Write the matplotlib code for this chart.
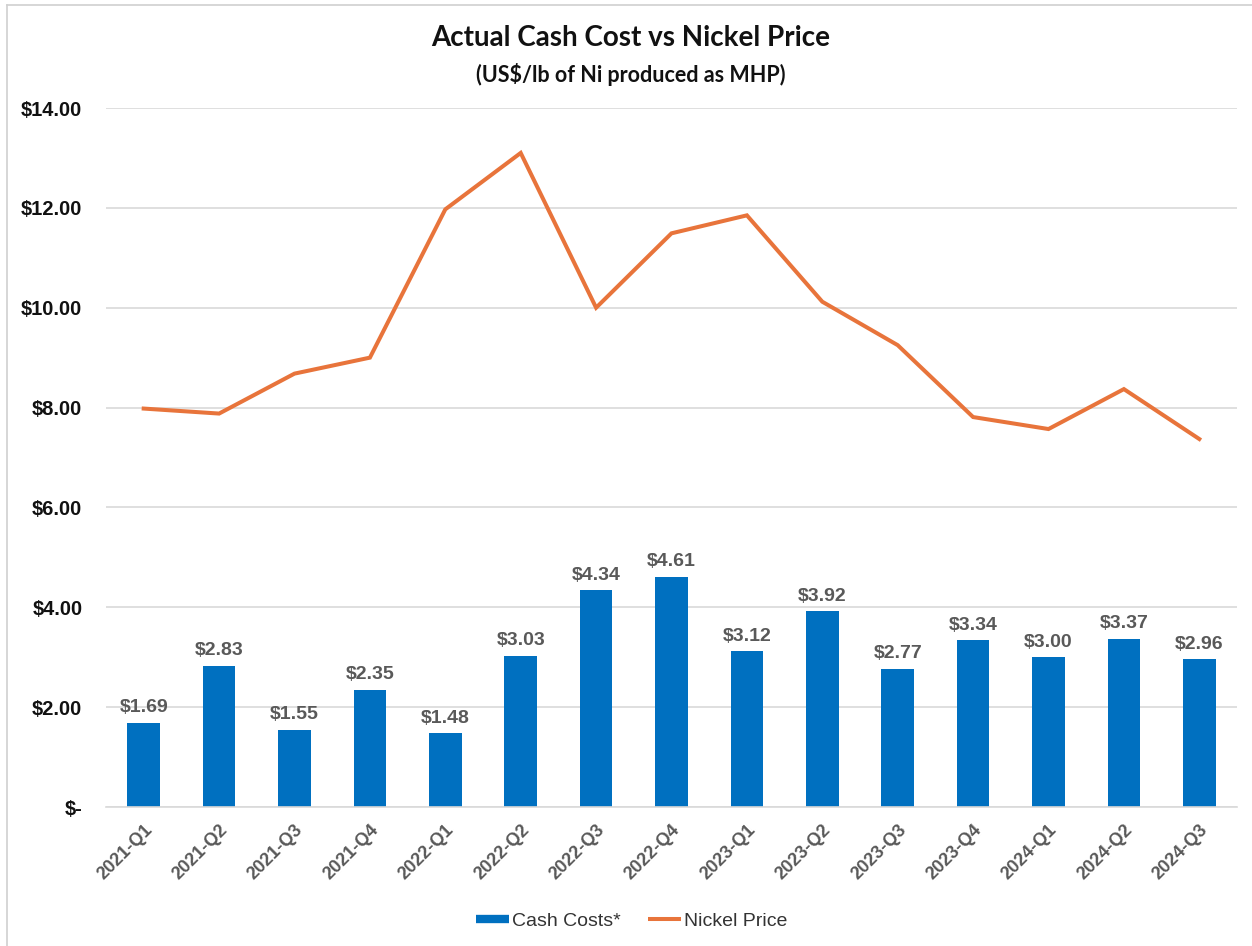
import matplotlib
matplotlib.use("Agg")
import matplotlib.pyplot as plt
from matplotlib.lines import Line2D
import numpy as np

quarters = ["2021-Q1", "2021-Q2", "2021-Q3", "2021-Q4", "2022-Q1", "2022-Q2", "2022-Q3",
            "2022-Q4", "2023-Q1", "2023-Q2", "2023-Q3", "2023-Q4", "2024-Q1", "2024-Q2", "2024-Q3"]
cash_costs = [1.69, 2.83, 1.55, 2.35, 1.48, 3.03, 4.34, 4.61, 3.12, 3.92, 2.77, 3.34, 3.00, 3.37, 2.96]
nickel_price = [7.98, 7.88, 8.68, 9.00, 11.97, 13.10, 10.00, 11.49, 11.85, 10.12, 9.25, 7.81, 7.57, 8.37, 7.37]
y_ticks = [0, 2, 4, 6, 8, 10, 12, 14]
y_tick_labels = ["$-", "$2.00", "$4.00", "$6.00", "$8.00", "$10.00", "$12.00", "$14.00"]

BLUE = "#0070C0"
ORANGE = "#E8743B"
GRID = "#D9D9D9"

plt.rcParams['font.family'] = ['Liberation Sans', 'DejaVu Sans']

fig = plt.figure(figsize=(12.52, 9.46), dpi=100)
ax = fig.add_axes([106/1252, 1-807/946, (1237-106)/1252, (807-108)/946])

x = np.arange(len(quarters))
ax.bar(x, cash_costs, width=0.43, color=BLUE, zorder=2)
ax.plot(x, nickel_price, color=ORANGE, lw=2.9, zorder=3, solid_joinstyle='miter')

for xi, v in zip(x, cash_costs):
    ax.text(xi, v + 0.13, f"${v:.2f}", ha='center', va='bottom', fontsize=14,
            fontweight='bold', color='#595959')

ax.set_xlim(-0.5, len(quarters) - 0.5)
ax.set_ylim(0, 14)
ax.set_yticks(y_ticks)
ax.set_yticklabels(y_tick_labels, fontsize=14.5, fontweight='bold', color='#111111')
ax.set_xticks(x)
ax.set_xticklabels(quarters, rotation=45, ha='right', rotation_mode='anchor',
                   fontsize=13, fontweight='bold', color='#595959')
ax.tick_params(axis='both', length=0)
ax.tick_params(axis='y', pad=17)
ax.tick_params(axis='x', pad=10)
ax.yaxis.grid(True, color=GRID, lw=1.2, zorder=0)
ax.set_axisbelow(True)
for s in ['top', 'right', 'left']:
    ax.spines[s].set_visible(False)
ax.spines['bottom'].set_color(GRID)
ax.spines['bottom'].set_linewidth(1.2)

fig.text(631/1252, 1-38/946, "Actual Cash Cost vs Nickel Price", ha='center', va='center',
         fontsize=20, fontweight='bold', family=['Lato', 'DejaVu Sans'], color='#111111')
fig.text(631/1252, 1-74/946, "(US$/lb of Ni produced as MHP)", ha='center', va='center',
         fontsize=15.5, fontweight='bold', family=['Lato', 'DejaVu Sans'], color='#111111')

handles = [Line2D([0], [0], color=BLUE, lw=6, solid_capstyle='butt'),
           Line2D([0], [0], color=ORANGE, lw=2.9, solid_capstyle='butt')]
fig.legend(handles, ["Cash Costs*", "Nickel Price"], loc='center',
           bbox_to_anchor=(632/1252, 1-921/946), ncol=2, frameon=False,
           fontsize=14, handlelength=1.7, handletextpad=0.15, columnspacing=1.4,
           labelcolor='#333333')

# light frame (left and top edges)
fig.add_artist(Line2D([7/1252, 7/1252], [0, 1-5/946], color='#D0D0D0', lw=1.2))
fig.add_artist(Line2D([7/1252, 1], [1-5/946, 1-5/946], color='#D0D0D0', lw=1.2))

fig.savefig("out.png", dpi=100)
